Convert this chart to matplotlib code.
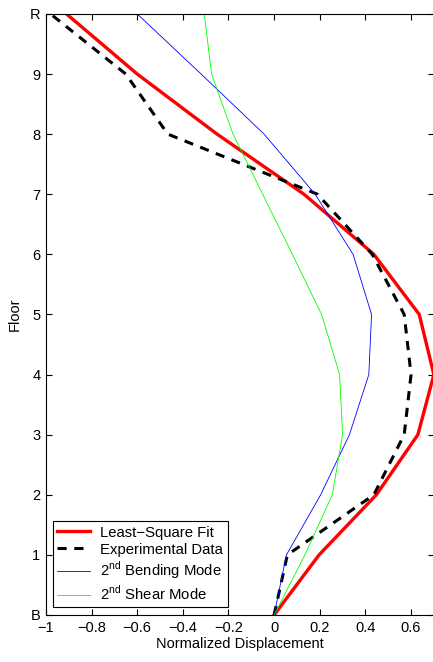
import matplotlib

matplotlib.use("Agg")
import matplotlib.pyplot as plt

plt.rcParams["font.family"] = ["Liberation Sans", "DejaVu Sans"]
plt.rcParams["mathtext.fontset"] = "custom"
plt.rcParams["mathtext.rm"] = "Liberation Sans"

floors = [0, 1, 2, 3, 4, 5, 6, 7, 8, 9, 10]
floor_labels = ["B", "1", "2", "3", "4", "5", "6", "7", "8", "9", "R"]

least_square = [0.0, 0.197, 0.448, 0.63, 0.70, 0.636, 0.437, 0.131, -0.25, -0.60, -0.91]
experimental = [0.0, 0.058, 0.437, 0.57, 0.60, 0.57, 0.43, 0.19, -0.466, -0.65, -0.98]
bending = [0.0, 0.054, 0.204, 0.33, 0.415, 0.427, 0.346, 0.18, -0.044, -0.32, -0.60]
shear = [0.0, 0.135, 0.255, 0.30, 0.287, 0.208, 0.08, -0.05, -0.18, -0.274, -0.306]

xticks = [-1, -0.8, -0.6, -0.4, -0.2, 0, 0.2, 0.4, 0.6]

fig = plt.figure(figsize=(4.33, 6.62), dpi=100)
ax = fig.add_axes([0.106, 0.071, 0.896, 0.908])

ax.plot(least_square, floors, color="#ff0000", linewidth=2.4, label="Least\u2212Square Fit")
ax.plot(experimental, floors, color="black", linewidth=2.2, linestyle=(0, (3, 2.5)),
        label="Experimental Data")
ax.plot(bending, floors, color="#0000ff", linewidth=0.6, label=r"2$^{\rm nd}$ Bending Mode")
ax.plot(shear, floors, color="#00ff00", linewidth=0.6, label=r"2$^{\rm nd}$ Shear Mode")

ax.set_xlim(-1, 0.7)
ax.set_ylim(0, 10)
ax.set_xticks(xticks)
ax.set_xticklabels([f"{v:g}".replace("-", "\u2212") for v in xticks])
ax.set_yticks(floors)
ax.set_yticklabels(floor_labels)
ax.tick_params(direction="in", top=True, right=True, labelsize=10.5, length=4, pad=4)
ax.set_xlabel("Normalized Displacement", fontsize=10.5, labelpad=2)
ax.set_ylabel("Floor", fontsize=10.5, labelpad=6)

leg = ax.legend(loc="lower left", bbox_to_anchor=(0.018, 0.013), fancybox=False,
                edgecolor="black", fontsize=10.7, handlelength=2.2, borderpad=0.3,
                labelspacing=0.2, handletextpad=0.7, framealpha=1, borderaxespad=0)
leg.get_frame().set_linewidth(0.8)

fig.savefig("out.png", dpi=100)
